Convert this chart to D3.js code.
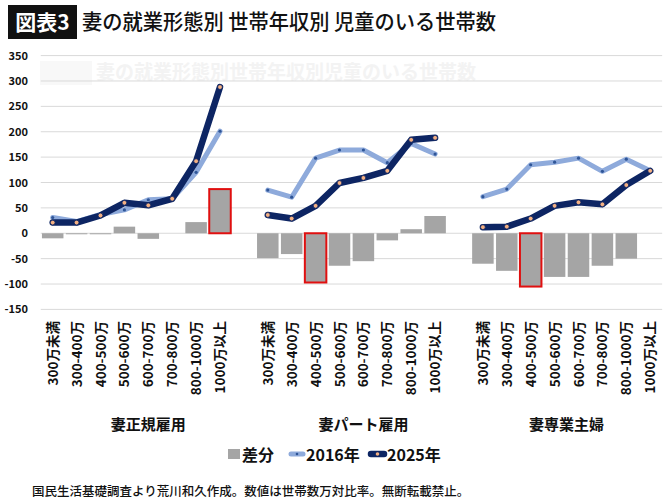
<!DOCTYPE html>
<html>
<head>
<meta charset="utf-8">
<script src="https://cdn.jsdelivr.net/npm/d3@7"></script>
<style>
  body { margin: 0; background: #fff; }
  text { font-family: "Noto Sans CJK JP", "Noto Sans", sans-serif; }
</style>
</head>
<body>
<div id="container"></div>
<script>
/* DATA */
var groups = ["妻正規雇用", "妻パート雇用", "妻専業主婦"];
var categories = ["300万未満", "300-400万", "400-500万", "500-600万", "600-700万", "700-800万", "800-1000万", "1000万以上"];

var v2016 = [
  [31, 23, 37, 46, 66, 68, 120, 201],
  [85, 71, 148, 164, 164, 139, 177, 156],
  [72, 87, 135, 140, 148, 122, 146, 123]
];
var v2025 = [
  [21, 21, 35, 60, 55, 68, 142, 288],
  [36, 29, 54, 99, 109, 123, 184, 188],
  [12, 13, 29, 54, 61, 57, 95, 123]
];
var diff = [
  [-10, -2, -2, 13, -11, 0, 22, 87],
  [-49, -41, -97, -64, -55, -14, 8, 34],
  [-60, -74, -105, -86, -86, -64, -50, 0]
];
// highlighted (red outlined) bar per group
var highlight = [7, 2, 2];

var yTicks = [350, 300, 250, 200, 150, 100, 50, 0, -50, -100, -150];

/* SIZES */
var width = 670, height = 502;
var plot = {left: 40.75, right: 662.15, top: 55.6, bottom: 309.4};

var svg = d3.select("#container")
  .append("svg")
  .attr("width", width)
  .attr("height", height);

// slot ids: one blank slot after group 1 and group 2
var slots = [];
groups.forEach(function(g, gi) {
  categories.forEach(function(c, ci) { slots.push(gi + "-" + ci); });
  if (gi < groups.length - 1) slots.push(gi + "-blank");
});

/* SCALES */
var xScale = d3.scaleBand()
  .domain(slots)
  .range([plot.left, plot.right])
  .paddingInner(0.1)
  .paddingOuter(0.05);

var yScale = d3.scaleLinear()
  .domain([-150, 350])
  .range([plot.bottom, plot.top]);

var cx = function(gi, ci) { return xScale(gi + "-" + ci) + xScale.bandwidth() / 2; };

/* TITLE */
svg.append("rect")
  .attr("x", 8).attr("y", 5).attr("width", 69).attr("height", 34)
  .attr("fill", "#111");
svg.append("text")
  .attr("x", 42.5).attr("y", 30)
  .attr("text-anchor", "middle")
  .attr("fill", "#fff")
  .attr("font-size", 21).attr("font-weight", 700)
  .text("図表3");
svg.append("text")
  .attr("x", 82).attr("y", 29)
  .attr("font-size", 21).attr("font-weight", 500)
  .attr("fill", "#111")
  .attr("textLength", 414).attr("lengthAdjust", "spacingAndGlyphs")
  .text("妻の就業形態別 世帯年収別 児童のいる世帯数");

// faint ghost title from the source chart
svg.append("rect")
  .attr("x", 40).attr("y", 61).attr("width", 52).attr("height", 24)
  .attr("fill", "#f8f8f8");
svg.append("text")
  .attr("x", 96).attr("y", 79)
  .attr("font-size", 19).attr("font-weight", 700)
  .attr("fill", "#f3f3f3")
  .text("妻の就業形態別世帯年収別児童のいる世帯数");

/* GRID + Y AXIS */
svg.append("g")
  .selectAll("line")
  .data(yTicks)
  .join("line")
  .attr("x1", plot.left).attr("x2", plot.right)
  .attr("y1", d => yScale(d)).attr("y2", d => yScale(d))
  .attr("stroke", "#d9d9d9").attr("stroke-width", 1);

svg.append("g")
  .selectAll("text")
  .data(yTicks)
  .join("text")
  .attr("x", 28).attr("y", d => yScale(d) + 4)
  .attr("text-anchor", "end")
  .attr("font-family", "'Noto Sans', sans-serif")
  .attr("font-size", 11).attr("font-weight", 700)
  .attr("fill", "#111")
  .text(d => d);

/* BARS */
var barData = [];
diff.forEach(function(arr, gi) {
  arr.forEach(function(v, ci) { barData.push({gi: gi, ci: ci, v: v}); });
});

svg.append("g")
  .selectAll("rect")
  .data(barData)
  .join("rect")
  .attr("x", d => xScale(d.gi + "-" + d.ci))
  .attr("width", xScale.bandwidth())
  .attr("y", d => yScale(Math.max(0, d.v)))
  .attr("height", d => Math.abs(yScale(d.v) - yScale(0)))
  .attr("fill", "#a5a5a5")
  .attr("stroke", d => highlight[d.gi] === d.ci ? "#e01010" : "none")
  .attr("stroke-width", 2);

/* LINES */
var line = d3.line()
  .x(d => d.x)
  .y(d => yScale(d.v));

function drawSeries(data, color, w, dotFill, dotStroke, r) {
  var g = svg.append("g");
  data.forEach(function(arr, gi) {
    var pts = arr.map(function(v, ci) { return {x: cx(gi, ci), v: v}; });
    g.append("path")
      .datum(pts)
      .attr("d", line)
      .attr("fill", "none")
      .attr("stroke", color)
      .attr("stroke-width", w)
      .attr("stroke-linejoin", "round")
      .attr("stroke-linecap", "round");
    g.selectAll(null)
      .data(pts)
      .join("circle")
      .attr("cx", d => d.x)
      .attr("cy", d => yScale(d.v))
      .attr("r", r)
      .attr("fill", dotFill)
      .attr("stroke", dotStroke)
      .attr("stroke-width", 0.8);
  });
}

drawSeries(v2016, "#8eaadb", 5, "#2f5597", "none", 1.6);
drawSeries(v2025, "#0d2563", 6.5, "#f4b183", "#0d2563", 2.4);

/* CATEGORY LABELS */
var labelData = [];
groups.forEach(function(g, gi) {
  categories.forEach(function(c, ci) { labelData.push({gi: gi, ci: ci, c: c}); });
});

svg.append("g")
  .selectAll("text")
  .data(labelData)
  .join("text")
  .attr("transform", d => "translate(" + (cx(d.gi, d.ci) + 5) + ",321) rotate(-90)")
  .attr("text-anchor", "end")
  .attr("font-size", 13.5).attr("font-weight", 700)
  .attr("fill", "#111")
  .text(d => d.c);

// group labels, centred over each group's slots (blank slot included)
svg.append("g")
  .selectAll("text")
  .data(groups)
  .join("text")
  .attr("x", function(d, gi) {
    var first = xScale(gi + "-0");
    var lastId = gi < groups.length - 1 ? gi + "-blank" : gi + "-7";
    var last = xScale(lastId) + xScale.bandwidth();
    return (first + last) / 2;
  })
  .attr("y", 430)
  .attr("text-anchor", "middle")
  .attr("font-size", 15).attr("font-weight", 700)
  .attr("fill", "#111")
  .text(d => d);

/* LEGEND */
var lg = svg.append("g");
lg.append("rect")
  .attr("x", 228).attr("y", 449).attr("width", 12).attr("height", 10)
  .attr("fill", "#a5a5a5");
lg.append("text")
  .attr("x", 242).attr("y", 461)
  .attr("font-size", 16).attr("font-weight", 700).attr("fill", "#111")
  .text("差分");
lg.append("line")
  .attr("x1", 291).attr("x2", 303).attr("y1", 454).attr("y2", 454)
  .attr("stroke", "#8eaadb").attr("stroke-width", 5).attr("stroke-linecap", "round");
lg.append("circle").attr("cx", 297).attr("cy", 454).attr("r", 1.3).attr("fill", "#2f5597");
lg.append("text")
  .attr("x", 306).attr("y", 461)
  .attr("font-size", 16).attr("font-weight", 700).attr("fill", "#111")
  .text("2016年");
lg.append("line")
  .attr("x1", 371).attr("x2", 384).attr("y1", 454).attr("y2", 454)
  .attr("stroke", "#0d2563").attr("stroke-width", 6.5).attr("stroke-linecap", "round");
lg.append("circle").attr("cx", 377.5).attr("cy", 454).attr("r", 1.8)
  .attr("fill", "#f4b183");
lg.append("text")
  .attr("x", 387).attr("y", 461)
  .attr("font-size", 16).attr("font-weight", 700).attr("fill", "#111")
  .text("2025年");

/* FOOTER */
svg.append("text")
  .attr("x", 32).attr("y", 496)
  .attr("font-size", 12.5).attr("font-weight", 500)
  .attr("fill", "#111")
  .text("国民生活基礎調査より荒川和久作成。数値は世帯数万対比率。無断転載禁止。");
</script>
</body>
</html>
